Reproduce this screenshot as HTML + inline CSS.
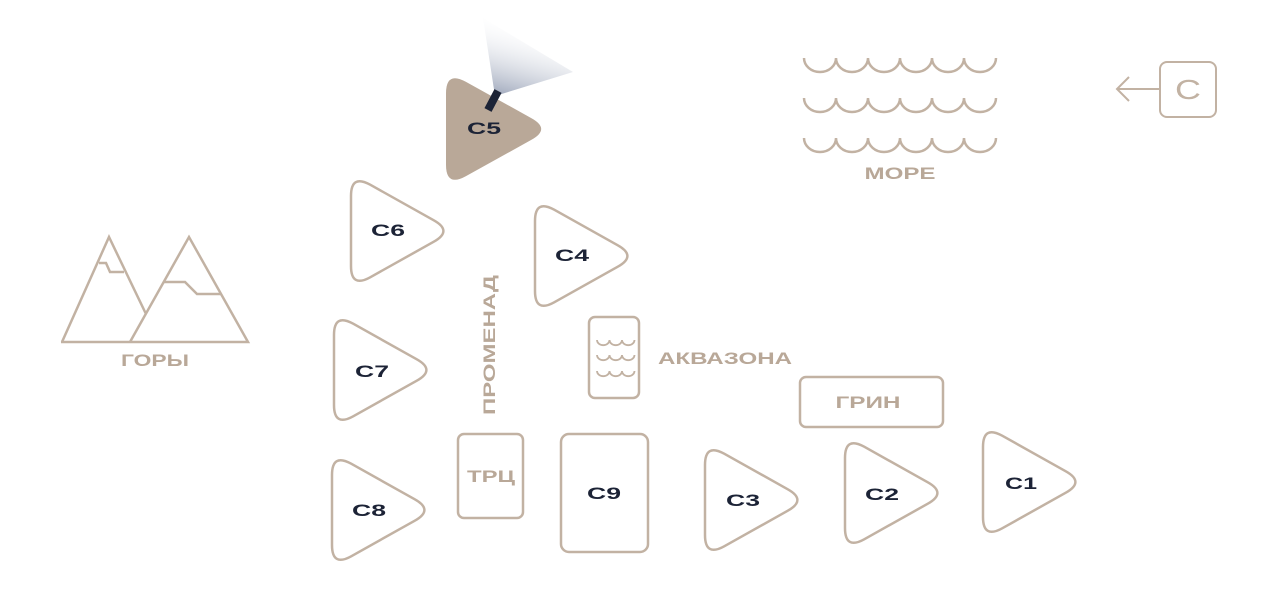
<!DOCTYPE html>
<html><head><meta charset="utf-8"><style>
html,body{margin:0;padding:0;background:#fff}
svg{display:block}
.t{font-family:"Liberation Sans",sans-serif;font-weight:bold;font-size:17px;fill:#1c2336;text-anchor:middle}
.g{font-family:"Liberation Sans",sans-serif;font-weight:bold;font-size:17px;fill:#b9a898;text-anchor:middle}
</style></head><body>
<svg width="1280" height="612" viewBox="0 0 1280 612" xmlns="http://www.w3.org/2000/svg">
<defs>
<path id="tri" d="M19.2,3.7 L82.8,39.3 Q102,50 82.8,60.7 L19.2,96.3 Q0,107 0,85 L0,15 Q0,-7 19.2,3.7 Z"/>
<linearGradient id="beam" x1="0" y1="1" x2="0.3" y2="0">
<stop offset="0" stop-color="#8a95ad" stop-opacity="0.9"/>
<stop offset="1" stop-color="#ffffff" stop-opacity="0"/>
</linearGradient>
<path id="wave" d="M804,58 a16,14 0 0 0 32,0 a16,14 0 0 0 32,0 a16,14 0 0 0 32,0 a16,14 0 0 0 32,0 a16,14 0 0 0 32,0 a16,14 0 0 0 32,0"/>
<path id="sw" d="M597,340 a6,5 0 0 0 12.5,0 a6,5 0 0 0 12.5,0 a6,5 0 0 0 12.5,0"/>
</defs>
<g fill="none" stroke="#c2b2a3" stroke-width="2.5">
<polygon points="495,96 483,18 573,72" fill="url(#beam)" stroke="none"/>
<use href="#tri" transform="translate(446,78) scale(1.03,1.02)" fill="#b9a898" stroke="none"/>
<line x1="488" y1="110" x2="498" y2="91" stroke="#1c2336" stroke-width="8"/>
<use href="#tri" transform="translate(351,181)"/>
<use href="#tri" transform="translate(535,206)"/>
<use href="#tri" transform="translate(334,320)"/>
<use href="#tri" transform="translate(332,460)"/>
<use href="#tri" transform="translate(705,450)"/>
<use href="#tri" transform="translate(845,443)"/>
<use href="#tri" transform="translate(983,432)"/>
<rect x="458" y="434" width="65" height="84" rx="6"/>
<rect x="561" y="434" width="87" height="118" rx="8"/>
<rect x="589" y="317" width="50" height="81" rx="6"/>
<rect x="800" y="377" width="143" height="50" rx="6"/>
<rect x="1160" y="62" width="56" height="55" rx="7" stroke-width="2"/>
<path d="M1160,89 H1117 M1129,77 L1117,89 L1129,101" stroke-width="2"/>
<use href="#wave"/>
<use href="#wave" transform="translate(0,40)"/>
<use href="#wave" transform="translate(0,80)"/>
<use href="#sw" stroke-width="1.8"/>
<use href="#sw" transform="translate(0,15)" stroke-width="1.8"/>
<use href="#sw" transform="translate(0,31)" stroke-width="1.8"/>
<path d="M62,342 L109,237 L146,314"/>
<path d="M130,342 L189,237 L248,342 Z M61,342 H130"/>
<path d="M99,263 H106 L110,272 H124"/>
<path d="M164,282 H185 L197,294 H221"/>
</g>
<text class="t" x="484" y="134" textLength="34" lengthAdjust="spacingAndGlyphs">C5</text>
<text class="t" x="388" y="236" textLength="34" lengthAdjust="spacingAndGlyphs">C6</text>
<text class="t" x="572" y="261" textLength="34" lengthAdjust="spacingAndGlyphs">C4</text>
<text class="t" x="372" y="377" textLength="34" lengthAdjust="spacingAndGlyphs">C7</text>
<text class="t" x="369" y="516" textLength="34" lengthAdjust="spacingAndGlyphs">C8</text>
<text class="t" x="743" y="506" textLength="34" lengthAdjust="spacingAndGlyphs">C3</text>
<text class="t" x="882" y="500" textLength="34" lengthAdjust="spacingAndGlyphs">C2</text>
<text class="t" x="1021" y="489" textLength="32" lengthAdjust="spacingAndGlyphs">C1</text>
<text class="t" x="604" y="499" textLength="34" lengthAdjust="spacingAndGlyphs">C9</text>
<text class="g" x="491" y="482" textLength="48" lengthAdjust="spacingAndGlyphs">ТРЦ</text>
<text class="g" x="868" y="408" textLength="65" lengthAdjust="spacingAndGlyphs">ГРИН</text>
<text class="g" x="725" y="364" textLength="134" lengthAdjust="spacingAndGlyphs">АКВАЗОНА</text>
<text class="g" x="900" y="179" textLength="71" lengthAdjust="spacingAndGlyphs">МОРЕ</text>
<text class="g" x="155" y="366" textLength="68" lengthAdjust="spacingAndGlyphs">ГОРЫ</text>
<text class="g" transform="translate(495,345) rotate(-90)" textLength="140" lengthAdjust="spacingAndGlyphs">ПРОМЕНАД</text>
<text x="1188" y="99" font-family="Liberation Sans,sans-serif" font-size="28" fill="#c2b2a3" text-anchor="middle" textLength="26" lengthAdjust="spacingAndGlyphs">C</text>
</svg>
</body></html>
